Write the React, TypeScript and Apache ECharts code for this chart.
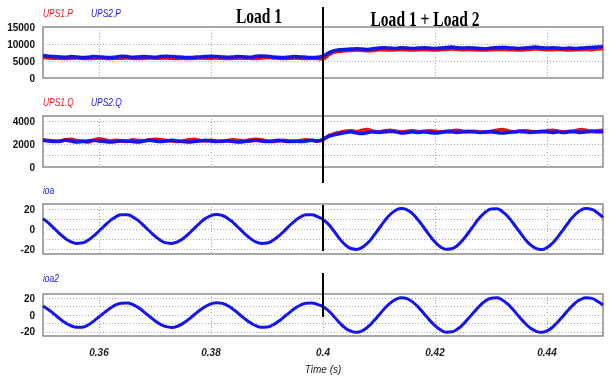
import React, { useEffect, useRef } from "react";
import * as echarts from "echarts";

const T0 = 0.35;
const DT = 0.001;
const X_TICKS = [0.36, 0.38, 0.4, 0.42, 0.44];
const P_TICKS = [0, 5000, 10000, 15000];
const Q_TICKS = [0, 2000, 4000];
const I_TICKS = [-20, 0, 20];

const UPS1_P = [
  6000, 5900, 5800, 5800, 5700, 5800, 5900, 5800, 5700, 5800, 5900, 5800, 5700, 5800, 5800, 5900, 5800, 5700, 5800, 5900,
  5800, 5800, 5900, 5800, 5700, 5800, 5700, 5800, 5900, 5800, 5800, 5900, 5800, 5700, 5800, 5900, 5800, 5800, 5700, 5900,
  6000, 5900, 5800, 5700, 5800, 5900, 5800, 5700, 5800, 5700, 5600, 6800, 7600, 7900, 8000, 8100, 8200, 8100, 8000, 8100,
  8300, 8300, 8200, 8300, 8400, 8300, 8200, 8300, 8400, 8300, 8200, 8300, 8400, 8500, 8400, 8300, 8400, 8300, 8200, 8200,
  8300, 8400, 8400, 8300, 8300, 8200, 8300, 8400, 8500, 8400, 8300, 8300, 8400, 8300, 8200, 8300, 8300, 8400, 8300, 8500,
  8700,
];
const UPS2_P = [
  6600, 6400, 6300, 6200, 6100, 6300, 6200, 6000, 6100, 6300, 6200, 6100, 6000, 6200, 6400, 6300, 6100, 6200, 6300, 6200,
  6100, 6300, 6400, 6300, 6200, 6100, 6000, 6100, 6200, 6300, 6400, 6300, 6200, 6100, 6200, 6300, 6200, 6100, 6400, 6500,
  6400, 6200, 6100, 6000, 6200, 6300, 6200, 6100, 6000, 6100, 6400, 7400, 8000, 8300, 8400, 8500, 8600, 8500, 8400, 8600,
  8800, 8900, 8800, 8700, 8900, 8800, 8700, 8800, 8900, 8800, 8700, 8800, 9000, 9100, 8900, 8800, 8900, 8800, 8700, 8600,
  8800, 8900, 9000, 8900, 8800, 8700, 8800, 9000, 9100, 8900, 8800, 8900, 8800, 8700, 8800, 8700, 8800, 8900, 9000, 9100,
  9300,
];
const UPS1_Q = [
  2400, 2350, 2300, 2250, 2400, 2450, 2350, 2300, 2200, 2350, 2500, 2400, 2300, 2350, 2300, 2250, 2400, 2350, 2300, 2400,
  2450, 2400, 2350, 2300, 2250, 2300, 2400, 2450, 2350, 2300, 2350, 2300, 2250, 2350, 2400, 2350, 2300, 2400, 2450, 2400,
  2300, 2250, 2300, 2350, 2300, 2250, 2350, 2400, 2350, 2300, 2400, 2750, 2950, 3050, 3150, 3200, 3100, 3250, 3300, 3150,
  3100, 3200, 3250, 3150, 3100, 3150, 3200, 3100, 3150, 3200, 3150, 3100, 3150, 3200, 3250, 3150, 3100, 3150, 3100, 3050,
  3150, 3250, 3300, 3200, 3100, 3150, 3200, 3150, 3100, 3100, 3200, 3250, 3150, 3100, 3150, 3200, 3300, 3250, 3150, 3200,
  3250,
];
const UPS2_Q = [
  2350, 2300, 2250, 2300, 2350, 2300, 2200, 2250, 2300, 2350, 2300, 2250, 2200, 2250, 2300, 2300, 2250, 2200, 2300, 2350,
  2300, 2250, 2300, 2350, 2300, 2250, 2200, 2250, 2300, 2350, 2300, 2250, 2300, 2300, 2250, 2200, 2250, 2300, 2350, 2300,
  2250, 2300, 2350, 2300, 2250, 2300, 2250, 2300, 2350, 2300, 2450, 2700, 2850, 2950, 3050, 3100, 3000, 2950, 3050, 3100,
  3050, 3100, 3150, 3100, 3000, 3050, 3100, 3050, 3100, 3050, 3000, 3050, 3100, 3100, 3050, 3100, 3150, 3100, 3050, 3100,
  3100, 3050, 3000, 3050, 3100, 3150, 3100, 3050, 3100, 3150, 3100, 3050, 3100, 3050, 3100, 3100, 3050, 3100, 3150, 3100,
  3100,
];
const IOA = [
  10.4, 5.9, 0.6, -4.8, -9.5, -12.9, -14.4, -13.9, -11.4, -7.2, -2.0, 3.4, 8.4, 12.2, 14.2, 14.2, 12.2, 8.4, 3.4, -2.0,
  -7.2, -11.4, -13.9, -14.4, -12.9, -9.6, -4.8, 0.6, 5.9, 10.4, 13.4, 14.5, 13.5, 10.6, 6.2, 0.8, -4.6, -9.4, -12.8, -14.4,
  -14.0, -11.5, -7.4, -2.3, 3.2, 8.2, 12.1, 14.2, 14.3, 12.3, 9.5, 4.6, -2.4, -9.9, -15.9, -19.5, -20.4, -18.4, -13.8, -7.1,
  0.5, 8.1, 14.5, 18.8, 20.5, 19.2, 15.2, 9.0, 1.5, -6.2, -13.0, -17.9, -20.3, -19.8, -16.5, -10.8, -3.5, 4.2, 11.4, 16.9,
  20.0, 20.2, 17.6, 12.5, 5.5, -2.2, -9.6, -15.6, -19.4, -20.5, -18.6, -14.0, -7.4, 0.2, 7.8, 14.3, 18.7, 20.5, 19.6, 16.2,
  11.5,
];
const IOA2 = [
  10.8, 6.2, 1.0, -4.5, -9.3, -12.8, -14.6, -14.5, -12.0, -7.6, -2.3, 3.1, 8.0, 12.0, 14.0, 14.3, 12.5, 8.8, 3.8, -1.6,
  -6.9, -11.2, -13.9, -14.8, -13.4, -10.0, -5.2, 0.3, 5.6, 10.1, 13.2, 14.6, 13.8, 11.0, 6.6, 1.2, -4.3, -9.1, -12.7, -14.5,
  -14.3, -11.9, -7.8, -2.6, 2.9, 7.9, 11.9, 14.1, 14.4, 12.6, 9.8, 4.9, -2.1, -9.6, -15.6, -19.3, -20.6, -18.8, -14.2, -7.5,
  0.1, 7.8, 14.2, 18.6, 20.6, 19.5, 15.6, 9.4, 1.9, -5.8, -12.7, -17.7, -20.4, -20.0, -16.8, -11.2, -3.9, 3.8, 11.0, 16.6,
  19.9, 20.4, 17.9, 12.9, 5.9, -1.8, -9.3, -15.3, -19.2, -20.6, -18.9, -14.4, -7.8, -0.2, 7.4, 14.0, 18.5, 20.6, 19.8, 16.3,
  11.8,
];

const RED = "#f01010";
const BLUE = "#1414ee";
const GRID_C = "#a8a8a8";

const pairs = (vals: number[]) => vals.map((v, i) => [+(T0 + i * DT).toFixed(3), v]);

export default function App() {
  const ref = useRef<HTMLDivElement>(null);
  useEffect(() => {
    const chart = echarts.init(ref.current!, null, { renderer: "svg" });
    const labelFont = {
      fontFamily: "'Liberation Sans', Arial, sans-serif",
      fontWeight: "bold" as const,
      fontSize: 10,
      color: "#111",
    };
    const grids = [
      { left: 43, right: 6, top: 27, height: 51 },
      { left: 43, right: 6, top: 116, height: 51 },
      { left: 43, right: 6, top: 204, height: 50 },
      { left: 43, right: 6, top: 294, height: 42 },
    ].map((g) => ({ ...g, show: true, borderColor: "#8a8a8a", borderWidth: 1.5, backgroundColor: "transparent" }));

    const xAxes = [0, 1, 2, 3].map((i) => ({
      type: "value",
      gridIndex: i,
      min: 0.35,
      max: 0.45,
      interval: 0.01,
      axisLine: { show: false },
      axisTick: { show: false },
      axisLabel: {
        show: i === 3,
        margin: 11,
        fontSize: 10,
        fontStyle: "italic",
        fontFamily: "'Liberation Sans', Arial, sans-serif",
        fontWeight: "bold",
        color: "#222",
        formatter: (v: number) => {
          const r = Number(v.toFixed(2));
          return X_TICKS.some((t) => Math.abs(t - r) < 1e-6) ? String(r) : "";
        },
      },
      splitLine: { show: true, lineStyle: { color: ["transparent", GRID_C], type: [1, 2], width: 1 } },
      name: i === 3 ? "Time (s)" : "",
      nameLocation: "middle",
      nameGap: 28,
      nameTextStyle: {
        fontSize: 10,
        fontStyle: "italic",
        fontFamily: "'Liberation Sans', Arial, sans-serif",
        color: "#222",
      },
    }));

    const showIf = (ticks: number[]) => (v: number) => (ticks.some((t) => Math.abs(t - v) < 1e-6) ? String(v) : "");
    const yAxes = [
      {
        gridIndex: 0, min: 0, max: 15000, interval: 5000,
        axisLabel: { ...labelFont, margin: 8, formatter: showIf(P_TICKS) },
        splitLine: { show: true, lineStyle: { color: GRID_C, type: [1, 2], width: 1 } },
      },
      {
        gridIndex: 1, min: 0, max: 4500, interval: 500,
        axisLabel: { ...labelFont, margin: 8, formatter: showIf(Q_TICKS) },
        splitLine: { show: true, lineStyle: { color: [GRID_C, "transparent"], type: [1, 2], width: 1 } },
      },
      {
        gridIndex: 2, min: -25, max: 25, interval: 5,
        axisLabel: { ...labelFont, margin: 8, formatter: showIf(I_TICKS) },
        splitLine: { show: true, lineStyle: { color: ["transparent", GRID_C], type: [1, 2], width: 1 } },
      },
      {
        gridIndex: 3, min: -25, max: 25, interval: 5,
        axisLabel: { ...labelFont, margin: 8, formatter: showIf(I_TICKS) },
        splitLine: { show: true, lineStyle: { color: ["transparent", GRID_C], type: [1, 2], width: 1 } },
      },
    ].map((y) => ({ type: "value", axisLine: { show: false }, axisTick: { show: false }, ...y }));

    const line = (name: string, vals: number[], idx: number, color: string, width: number, smooth: number) => ({
      name,
      type: "line",
      xAxisIndex: idx,
      yAxisIndex: idx,
      data: pairs(vals),
      showSymbol: false,
      smooth,
      lineStyle: { color, width },
      itemStyle: { color },
    });

    chart.setOption({
      animation: false,
      grid: grids,
      xAxis: xAxes,
      yAxis: yAxes,
      series: [
        line("UPS1.P", UPS1_P, 0, RED, 3.5, 0.3),
        line("UPS2.P", UPS2_P, 0, BLUE, 3.5, 0.3),
        line("UPS1.Q", UPS1_Q, 1, RED, 3.5, 0.3),
        line("UPS2.Q", UPS2_Q, 1, BLUE, 3.5, 0.3),
        line("ioa", IOA, 2, BLUE, 3, 0.5),
        line("ioa2", IOA2, 3, BLUE, 3, 0.5),
      ],
    });

    const x = chart.convertToPixel({ xAxisIndex: 0 }, 0.4) as number;
    const legendText = (text: string, lx: number, ly: number, fill: string) => ({
      type: "text",
      x: lx,
      y: ly,
      scaleX: 0.8,
      style: {
        text,
        fill,
        font: "italic 10.5px 'Liberation Sans', Arial, sans-serif",
        verticalAlign: "middle",
      },
    });
    const loadText = (text: string, cx: number, cy: number) => ({
      type: "text",
      x: cx,
      y: cy,
      scaleX: 0.74,
      style: {
        text,
        fill: "#000",
        font: "bold 21px 'Liberation Serif', 'Times New Roman', serif",
        align: "center",
        verticalAlign: "middle",
      },
    });
    const vseg = (y1: number, y2: number) => ({
      type: "line",
      shape: { x1: x, y1, x2: x, y2 },
      style: { stroke: "#000", lineWidth: 2 },
      z: 100,
    });
    chart.setOption({
      graphic: [
        legendText("UPS1.P", 43, 13, "#e01818"),
        legendText("UPS2.P", 91, 13, "#1818d8"),
        legendText("UPS1.Q", 43, 102, "#e01818"),
        legendText("UPS2.Q", 91, 102, "#1818d8"),
        legendText("ioa", 43, 190, "#1818d8"),
        legendText("ioa2", 43, 278, "#1818d8"),
        loadText("Load 1", 259, 16),
        loadText("Load 1 + Load 2", 425, 19),
        vseg(7, 183),
        vseg(205, 251),
        vseg(273, 317),
      ],
    });

    return () => chart.dispose();
  }, []);
  return <div ref={ref} style={{ position: "fixed", left: 0, top: 0, width: 609, height: 379 }} />;
}
